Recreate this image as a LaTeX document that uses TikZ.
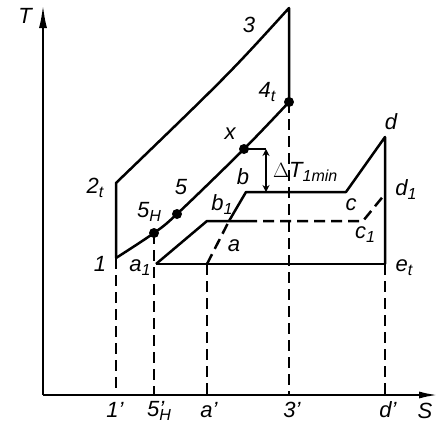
\documentclass[tikz,border=0pt]{standalone}
\usepackage{fontspec}
\setmainfont{Liberation Sans}
\usetikzlibrary{arrows.meta}
\newcommand{\lsub}[1]{\raisebox{-4pt}{\fontsize{16}{16}\selectfont #1}}
\begin{document}
\begin{tikzpicture}[x=1pt,y=-1pt,
  ln/.style={line width=2.5pt, line join=round},
  dsh/.style={ln, dash pattern=on 11pt off 6pt},
  dot/.style={circle, fill, inner sep=0pt, minimum size=10pt},
  lbl/.style={font=\fontsize{22}{24}\selectfont\itshape, inner sep=0pt},
]
\useasboundingbox (0,0) rectangle (440,424);
% axes
\coordinate (O) at (43,395);
\coordinate (Ttip) at (43,4);
\coordinate (Stip) at (439,395);
\draw[ln, -{Latex[length=24pt,width=8pt]}] (O) -- (Ttip);
\draw[ln, -{Latex[length=20pt,width=7pt]}] (O) -- (Stip);
% points
\coordinate (p1) at (116,258);
\coordinate (p2t) at (116,183);
\coordinate (p3) at (289,8);
\node[dot] (p4t) at (289,102) {};
\node[dot] (p5H) at (154,233) {};
\node[dot] (p5) at (177,214) {};
\node[dot] (px) at (244,149) {};
\coordinate (pa1) at (156,264);
\coordinate (pet) at (385,264);
\coordinate (pd) at (385,137);
\coordinate (pd1) at (385,194);
\coordinate (pc) at (346,192);
\coordinate (pb) at (246,192);
\coordinate (pb1) at (229,221);
\coordinate (pa) at (207,264);
\coordinate (pk) at (207,221);
\coordinate (pks) at (246,221);
\coordinate (pc1) at (363,221);
\coordinate (pm) at (266,149);
\coordinate (pn) at (266,192);
% foot points
\coordinate (f1) at (116,395);
\coordinate (f5) at (154,395);
\coordinate (fa) at (207,395);
\coordinate (f3) at (289,395);
\coordinate (fd) at (385,395);
% gas line
\draw[ln] (p1) -- (p2t) .. controls (229,74) .. (p3) -- (p4t.center);
% steam line
\draw[ln] plot[smooth, tension=0.55] coordinates {(p1) (p5H.center) (p5.center) (px.center) (p4t.center)};
% delta T
\draw[ln] (px.center) -- (pm);
\draw[line width=2.2pt, {Stealth[length=7pt,width=7pt]}-{Stealth[length=7pt,width=7pt]}] (pm) -- (pn);
% upper water-steam line
\draw[ln] (pb1) -- (pb) -- (pc) -- (pd) -- (pet);
\draw[dsh] (pa) -- (pb1);
% middle line
\draw[ln] (pa1) -- (pk) -- (pks);
\draw[dsh] (pks) -- (pc1) -- (pd1);
% bottom line
\draw[ln] (pa1) -- (pet);
% dashed projections
\draw[dsh] (p1) -- (f1);
\draw[dsh] (p5H.center) -- (f5);
\draw[dsh] (pa) -- (fa);
\draw[dsh] (p4t.center) -- (f3);
\draw[dsh] (pet) -- (fd);
% labels
\node[lbl] (lT) at (25,16) {T};
\node[lbl] (lS) at (425,411) {S};
\node[lbl] (l3) at (249,25) {3};
\node[lbl] (l4t) at (267,92) {4\lsub{t}};
\node[lbl] (lx) at (230,134) {x};
\node[lbl] (ld) at (391,122) {d};
\node[lbl, anchor=west] (ldT) at (273,172) {$\Delta$T\lsub{1min}};
\node[lbl] (ld1) at (406,190) {d\lsub{1}};
\node[lbl] (lc) at (351,205) {c};
\node[lbl] (lc1) at (365,235) {c\lsub{1}};
\node[lbl] (let) at (404,268) {e\lsub{t}};
\node[lbl] (l2t) at (95,188) {2\lsub{t}};
\node[lbl] (l5) at (181,187) {5};
\node[lbl] (l5H) at (149,212) {5\lsub{H}};
\node[lbl] (lb1) at (222,205) {b\lsub{1}};
\node[lbl] (lb) at (243,177) {b};
\node[lbl] (la) at (234,246) {a};
\node[lbl] (la1) at (140,268) {a\lsub{1}};
\node[lbl] (l1) at (100,264) {1};
\node[lbl] (f1l) at (115,410) {1'};
\node[lbl] (f5l) at (159,411) {5\makebox[0pt][l]{'}\lsub{H}};
\node[lbl] (fal) at (209,410) {a'};
\node[lbl] (f3l) at (292,410) {3'};
\node[lbl] (fdl) at (388,410) {d'};
\end{tikzpicture}
\end{document}
